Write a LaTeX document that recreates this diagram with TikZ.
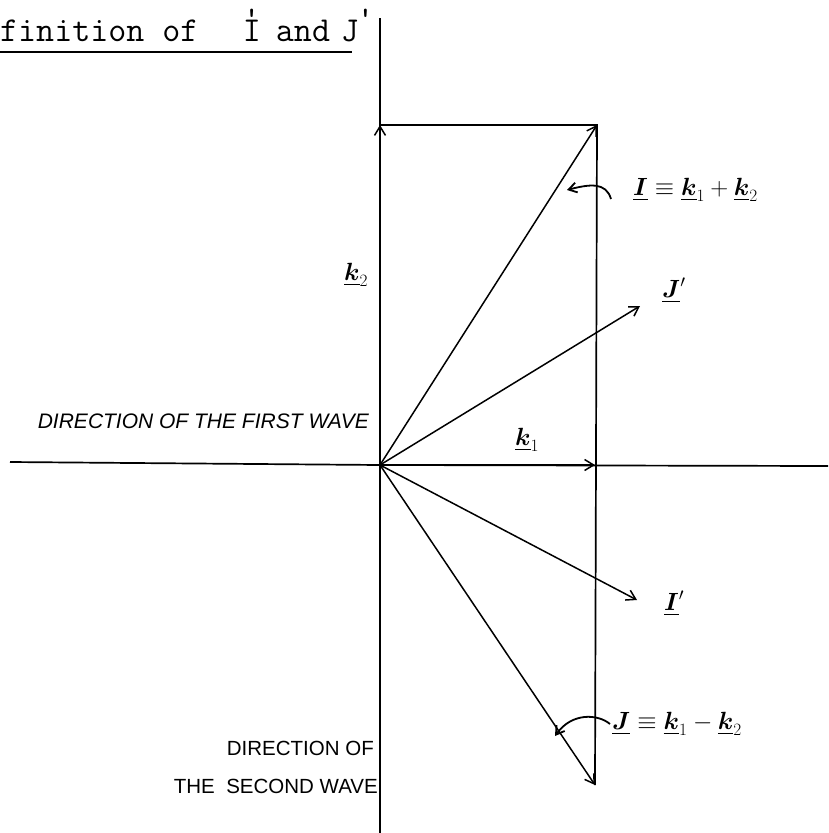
\documentclass[tikz,border=0pt]{standalone}
\usepackage{amsmath}
\usepackage{fontspec}
\usetikzlibrary{arrows.meta}
\newfontfamily\handf{Liberation Sans}
\tikzset{
  vec/.style={line width=1.5pt,-{Straight Barb[length=9pt,width=11pt,line width=1.5pt]}},
  axisline/.style={line width=1.7pt},
  hookarrow/.style={line width=1.8pt,-{Straight Barb[length=8pt,width=10pt,line width=1.8pt]}},
  lab/.style={inner sep=0pt,font=\fontsize{27}{31}\selectfont},
  capit/.style={inner sep=0pt,font=\handf\itshape\fontsize{21}{24}\selectfont},
  capup/.style={inner sep=0pt,font=\handf\fontsize{20.5}{24}\selectfont},
  tt/.style={inner sep=0pt,anchor=base,font=\ttfamily\fontsize{35}{40}\selectfont},
}
\newcommand{\vk}{\underline{\boldsymbol{k}}}
\newcommand{\pmk}{\raisebox{15pt}{\fontsize{28}{32}\bfseries '}}
\begin{document}
\begin{tikzpicture}[x=1pt,y=-1pt]
\useasboundingbox (0,0) rectangle (828,833);
% key points
\coordinate (O) at (380,465);
\coordinate (K1) at (595,465);
\coordinate (K2) at (380,125);
\coordinate (Itip) at (597,125);
\coordinate (Jtip) at (595,785);
\coordinate (Jp) at (640,306);
\coordinate (Ip) at (637,600);
\coordinate (AxL) at (10,462);
\coordinate (AxR) at (828,466);
\coordinate (AxT) at (380,18);
\coordinate (AxB) at (380,833);
% axes
\draw[axisline] (AxL) -- (O) -- (AxR);
\draw[axisline] (AxT) -- (AxB);
% rectangle sides
\draw[axisline] (K2) -- (Itip) -- (Jtip);
% vectors
\draw[vec] (O) -- (K2);
\draw[vec] (O) -- (K1);
\draw[vec] (O) -- (Itip);
\draw[vec] (O) -- (Jtip);
\draw[vec] (O) -- (Jp);
\draw[vec] (O) -- (Ip);
% title
\node[tt,anchor=base west] (t1) at (0,41) {finition of};
\node[tt] (t2) at (252,41) {I\llap{\pmk\hspace{2pt}}};
\node[tt] (t3) at (303,41) {and};
\node[tt] (t4) at (350,41) {J\rlap{\hspace{-1pt}\pmk}};
\coordinate (ulA) at (0,52);
\coordinate (ulB) at (352,52);
\draw[line width=1.6pt] (ulA) -- (ulB);
% labels
\node[lab] (lk2) at (356,275) {$\vk_2$};
\node[lab] (lk1) at (527,440) {$\vk_1$};
\node[lab,anchor=west] (lI) at (633,190) {$\underline{\boldsymbol{I}} \equiv \vk_1 + \vk_2$};
\node[lab,anchor=west] (lJp) at (662,290) {$\underline{\boldsymbol{J}}'$};
\node[lab,anchor=west] (lIp) at (664,603) {$\underline{\boldsymbol{I}}'$};
\node[lab,anchor=west] (lJ) at (612,724) {$\underline{\boldsymbol{J}} \equiv \vk_1 - \vk_2$};
% hooks
\coordinate (hIa) at (611,199);
\coordinate (hIb) at (567,190);
\draw[hookarrow] (hIa) .. controls (606,182) and (590,184) .. (hIb);
\coordinate (hJa) at (610,724);
\coordinate (hJb) at (555,736);
\draw[hookarrow] (hJa) .. controls (598,714) and (572,712) .. (hJb);
% handwritten captions
\node[capit,anchor=east] (first) at (369,421) {DIRECTION OF THE FIRST WAVE};
\node[capup,anchor=east] (second1) at (374,748) {DIRECTION OF};
\node[capup,anchor=east] (second2) at (378,786) {THE\ \ SECOND WAVE};
\end{tikzpicture}
\end{document}
